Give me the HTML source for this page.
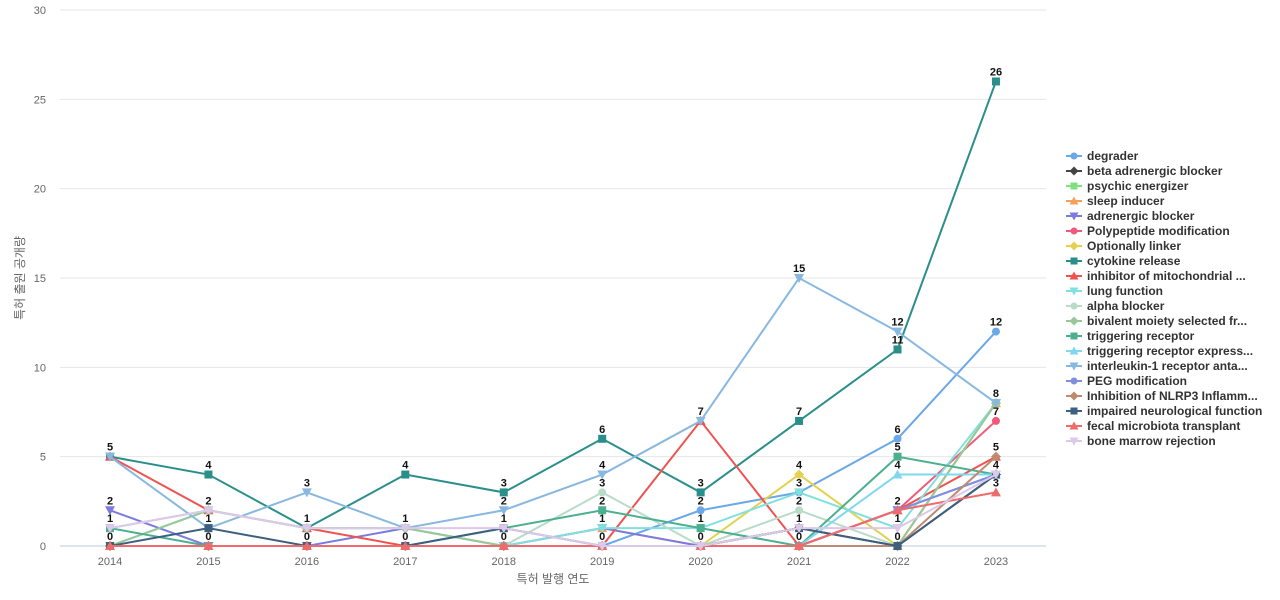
<!DOCTYPE html>
<html><head><meta charset="utf-8">
<style>
html,body{margin:0;padding:0;background:#fff;width:1280px;height:600px;overflow:hidden;font-family:"Liberation Sans","Noto Sans CJK KR",sans-serif;}
svg text{font-family:"Liberation Sans","Noto Sans CJK KR",sans-serif;}
</style></head>
<body>
<svg id="chart" width="1280" height="600" xmlns="http://www.w3.org/2000/svg"></svg>
<script>
const years = ["2014","2015","2016","2017","2018","2019","2020","2021","2022","2023"];
const yTicks = [0,5,10,15,20,25,30];
const seriesNames = ["degrader","beta adrenergic blocker","psychic energizer","sleep inducer","adrenergic blocker","Polypeptide modification","Optionally linker","cytokine release","inhibitor of mitochondrial ...","lung function","alpha blocker","bivalent moiety selected fr...","triggering receptor","triggering receptor express...","interleukin-1 receptor anta...","PEG modification","Inhibition of NLRP3 Inflamm...","impaired neurological function","fecal microbiota transplant","bone marrow rejection"];
const degrader = [0,0,0,0,0,0,2,3,6,12];
const betaAdrenergic = [0,0,0,0,0,0,0,1,0,4];
const psychic = [0,0,0,0,0,0,0,0,0,8];
const sleepInducer = [0,0,0,0,0,1,0,0,0,8];
const adrenergic = [2,0,0,1,0,1,0,0,2,4];
const polypeptide = [0,0,0,0,0,0,0,0,2,7];
const optionally = [0,0,0,0,0,0,0,4,0,8];
const cytokine = [5,4,1,4,3,6,3,7,11,26];
const mito = [5,2,1,0,0,0,7,0,2,5];
const lung = [0,2,1,1,0,1,1,3,1,8];
const alpha = [1,2,1,1,0,3,0,2,0,8];
const bivalent = [0,2,1,1,0,0,0,0,0,8];
const triggering = [1,0,0,0,1,2,1,0,5,4];
const trigExpress = [0,0,0,0,0,0,0,0,4,4];
const il1 = [5,1,3,1,2,4,7,15,12,8];
const peg = [0,0,0,0,0,0,0,0,2,4];
const nlrp3 = [0,0,0,0,0,0,0,0,0,5];
const impaired = [0,1,0,0,1,0,0,1,0,4];
const fecal = [0,0,0,0,0,0,0,0,2,3];
const bone = [1,2,1,1,1,0,0,1,1,4];

const allValues=[degrader,betaAdrenergic,psychic,sleepInducer,adrenergic,polypeptide,optionally,cytokine,mito,lung,alpha,bivalent,triggering,trigExpress,il1,peg,nlrp3,impaired,fecal,bone];
const colors=["#6aa8e8","#444444","#7ee07e","#f5a05a","#7b7be0","#ef5a7a","#e6d050","#2a8f8a","#ef5350","#80e0e0","#b8dcc8","#98c898","#4caf8f","#80d8f0","#88b8e0","#7f8fe0","#c08a70","#3d6080","#ef6a6a","#dcc8e8"];
const shapes=["circle","diamond","square","triangle","down","circle","diamond","square","triangle","down","circle","diamond","square","triangle","down","circle","diamond","square","triangle","down"];

const svg=document.getElementById('chart');
const NS="http://www.w3.org/2000/svg";
const X0=110,XS=98.44,Y0=546,YT=10,YMAX=30;
function xs(i){return X0+i*XS;}
function ys(v){return Y0-(v/YMAX)*(Y0-YT);}
function mk(tag,attrs,parent){const e=document.createElementNS(NS,tag);for(const k in attrs)e.setAttribute(k,attrs[k]);(parent||svg).appendChild(e);return e;}
function marker(shape,x,y,c,r,g){
  if(shape==="circle")return mk('circle',{cx:x,cy:y,r:r,fill:c},g);
  if(shape==="square")return mk('rect',{x:x-r,y:y-r,width:2*r,height:2*r,fill:c},g);
  if(shape==="diamond")return mk('polygon',{points:`${x},${y-r-1} ${x+r+1},${y} ${x},${y+r+1} ${x-r-1},${y}`,fill:c},g);
  if(shape==="triangle")return mk('polygon',{points:`${x},${y-r-1} ${x+r+1},${y+r} ${x-r-1},${y+r}`,fill:c},g);
  return mk('polygon',{points:`${x-r-1},${y-r} ${x+r+1},${y-r} ${x},${y+r+1}`,fill:c},g);
}
// grid + y ticks
yTicks.forEach(t=>{
  const l=mk('line',{x1:60,x2:1046,y1:ys(t),y2:ys(t),stroke:t===0?"#b8c8e0":"#e6e6e6","stroke-width":1});
  
  
  const tx=mk('text',{x:46,y:ys(t)+4,"text-anchor":"end","font-size":11,fill:"#666"});
  tx.textContent=t;
  
  
});
years.forEach((yr,i)=>{
  const tx=mk('text',{x:xs(i),y:565,"text-anchor":"middle","font-size":11,fill:"#666"});
  tx.textContent=yr;
  
  
});
const xt=mk('text',{x:553,y:583,"text-anchor":"middle","font-size":12,fill:"#666"});
xt.textContent="특허 발행 연도";


const yt=mk('text',{x:24,y:278,"text-anchor":"middle","font-size":12,fill:"#666",transform:"rotate(-90 24 278)"});
yt.textContent="특허 출원 공개량";



// series
allValues.forEach((vals,s)=>{
  const g=mk('g',{});
  
  
  const pts=vals.map((v,i)=>xs(i)+","+ys(v)).join(" ");
  mk('polyline',{points:pts,fill:"none",stroke:colors[s],"stroke-width":2},g);
  vals.forEach((v,i)=>{
    const m=marker(shapes[s],xs(i),ys(v),colors[s],4,g);
    
    
  });
});
// value labels (distinct values per year)
years.forEach((yr,i)=>{
  const seen=new Set();
  allValues.forEach(vals=>seen.add(vals[i]));
  seen.forEach(v=>{
    const t=mk('text',{x:xs(i),y:ys(v)-6,"text-anchor":"middle","font-size":11,"font-weight":"bold",fill:"#111"});
    t.textContent=v;
    
    
  });
});
// legend
seriesNames.forEach((n,s)=>{
  const y=156+s*15;
  const g=mk('g',{});
  
  
  mk('line',{x1:1066,x2:1082,y1:y,y2:y,stroke:colors[s],"stroke-width":2},g);
  marker(shapes[s],1074,y,colors[s],3.5,g);
  const t=mk('text',{x:1087,y:y+4,"font-size":12,"font-weight":"bold",fill:"#333"},g);
  t.textContent=n;
});
</script>
</body></html>
